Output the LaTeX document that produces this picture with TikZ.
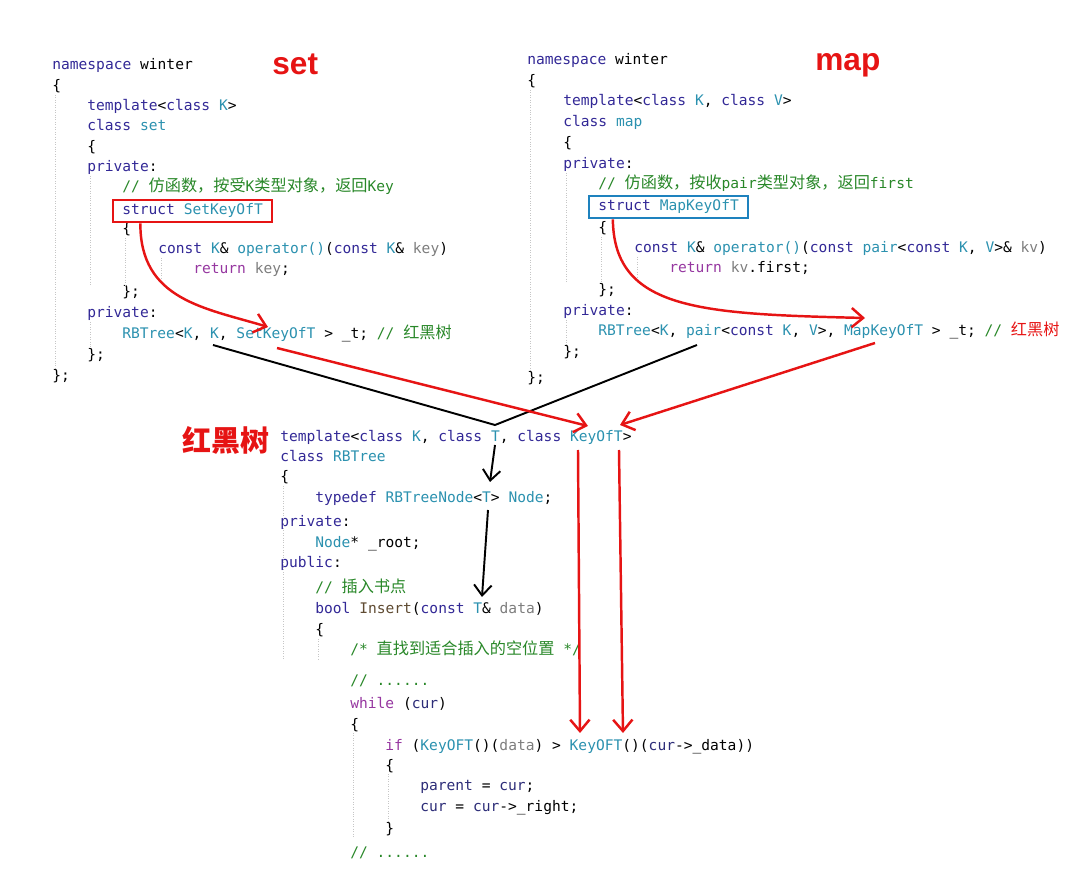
\documentclass[tikz,border=0pt]{standalone}
\usepackage{fontspec}
\usepackage{xcolor}
\setmonofont{DejaVu Sans Mono}
\newfontfamily\cjk{Noto Sans CJK SC}
\newfontfamily\labelfont{Liberation Sans}
\usetikzlibrary{arrows.meta, fit, positioning}

\definecolor{kwblue}{RGB}{50,40,150}
\definecolor{tyteal}{RGB}{43,145,175}
\definecolor{cmgreen}{RGB}{40,135,40}
\definecolor{ctpurple}{RGB}{150,55,160}
\definecolor{prmgray}{RGB}{125,125,125}
\definecolor{varnavy}{RGB}{45,45,120}
\definecolor{fncbrown}{RGB}{95,75,50}
\definecolor{labelred}{RGB}{230,20,20}
\definecolor{boxblue}{RGB}{30,130,190}

\newcommand{\kw}[1]{\textcolor{kwblue}{#1}}
\newcommand{\tyn}[1]{\textcolor{tyteal}{#1}}
\newcommand{\cmt}[1]{\textcolor{cmgreen}{#1}}
\newcommand{\ctl}[1]{\textcolor{ctpurple}{#1}}
\newcommand{\prm}[1]{\textcolor{prmgray}{#1}}
\newcommand{\vname}[1]{\textcolor{varnavy}{#1}}
\newcommand{\fnc}[1]{\textcolor{fncbrown}{#1}}
\newcommand{\zh}[1]{{\cjk\fontsize{9.2}{10}\selectfont #1}}

\tikzset{
    code/.style={anchor=base west, inner sep=0pt, text height=6.5pt, text depth=2pt,
        font=\ttfamily\fontsize{8.3}{10}\selectfont}, % one line of source
    title/.style={anchor=base west, inner sep=0pt, text=labelred,
        font=\labelfont\bfseries\fontsize{18}{20}\selectfont},
    setbox/.style={draw=labelred, line width=1.1pt, inner xsep=5pt, inner ysep=2pt},
    mapbox/.style={draw=boxblue, line width=1.1pt, inner xsep=5pt, inner ysep=2pt},
    guide/.style={draw=gray!45, densely dotted, thin},
    redarrow/.style={draw=labelred, line width=1.4pt, -{Straight Barb[length=6.5pt,width=11pt]}},
    blackarrow/.style={draw=black, line width=1.1pt, -{Straight Barb[length=6pt,width=10pt]}},
}
\tikzstyle{blackline} = [draw=black, line width=1.1pt]

\begin{document}
\begin{tikzpicture}[x=0.02cm, y=-0.02cm]
    \useasboundingbox (0,0) rectangle (1080,885);

    % set
    \node[title] (settitle) at (272,75) {set};
    \node[code] (s1) at (52,70) {\kw{namespace} winter};
    \node[code] (s2) at (52,91) {\{};
    \node[code] (s3) at (87,111) {\kw{template}<\kw{class} \tyn{K}>};
    \node[code] (s4) at (87,131) {\kw{class} \tyn{set}};
    \node[code] (s5) at (87,152) {\{};
    \node[code] (s6) at (87,172) {\kw{private}:};
    \node[code] (s7) at (122,192) {\cmt{// \zh{仿函数，按受}K\zh{类型对象，返回}Key}};
    \node[code] (s8) at (122,215) {\kw{struct} \tyn{SetKeyOfT}};
    \node[code] (s9) at (122,234) {\{};
    \node[code] (s10) at (158,254) {\kw{const} \tyn{K}\& \tyn{operator()}(\kw{const} \tyn{K}\& \prm{key})};
    \node[code] (s11) at (193,274) {\ctl{return} \prm{key};};
    \node[code] (s12) at (122,297) {\};};
    \node[code] (s13) at (87,318) {\kw{private}:};
    \node[code] (s14) at (122,339) {\tyn{RBTree}<\tyn{K}, \tyn{K}, \tyn{SetKeyOfT} > \_t; \cmt{// \zh{红黑树}}};
    \node[code] (s15) at (87,360) {\};};
    \node[code] (s16) at (52,381) {\};};
    \node[setbox, fit=(s8)] (setkey) {};

    % map
    \node[title] (maptitle) at (815,71) {map};
    \node[code] (m1) at (527,65) {\kw{namespace} winter};
    \node[code] (m2) at (527,86) {\{};
    \node[code] (m3) at (563,106) {\kw{template}<\kw{class} \tyn{K}, \kw{class} \tyn{V}>};
    \node[code] (m4) at (563,127) {\kw{class} \tyn{map}};
    \node[code] (m5) at (563,148) {\{};
    \node[code] (m6) at (563,169) {\kw{private}:};
    \node[code] (m7) at (598,189) {\cmt{// \zh{仿函数，按收}pair\zh{类型对象，返回}first}};
    \node[code] (m8) at (598,211) {\kw{struct} \tyn{MapKeyOfT}};
    \node[code] (m9) at (598,233) {\{};
    \node[code] (m10) at (634,253) {\kw{const} \tyn{K}\& \tyn{operator()}(\kw{const} \tyn{pair}<\kw{const} \tyn{K}, \tyn{V}>\& \prm{kv})};
    \node[code] (m11) at (669,273) {\ctl{return} \prm{kv}.first;};
    \node[code] (m12) at (598,295) {\};};
    \node[code] (m13) at (563,316) {\kw{private}:};
    \node[code] (m14) at (598,336) {\tyn{RBTree}<\tyn{K}, \tyn{pair}<\kw{const} \tyn{K}, \tyn{V}>, \tyn{MapKeyOfT} > \_t; \cmt{//} \textcolor{labelred}{\zh{红黑树}}};
    \node[code] (m15) at (563,357) {\};};
    \node[code] (m16) at (527,383) {\};};
    \node[mapbox, fit=(m8)] (mapkey) {};

    % red-black tree
    \node[title, anchor=center, font=\cjk\bfseries\fontsize{16.5}{18}\selectfont] (rbtitle) at (226,440) {红黑树};
    \node[code] (r1) at (280,442) {\kw{template}<\kw{class} \tyn{K}, \kw{class} \tyn{T}, \kw{class} \tyn{KeyOfT}>};
    \node[code] (r2) at (280,462) {\kw{class} \tyn{RBTree}};
    \node[code] (r3) at (280,482) {\{};
    \node[code] (r4) at (315,503) {\kw{typedef} \tyn{RBTreeNode}<\tyn{T}> \tyn{Node};};
    \node[code] (r5) at (280,527) {\kw{private}:};
    \node[code] (r6) at (315,548) {\tyn{Node}* \_root;};
    \node[code] (r7) at (280,568) {\kw{public}:};
    \node[code] (r8) at (315,593) {\cmt{// \zh{插入书点}}};
    \node[code] (r9) at (315,614) {\kw{bool} \fnc{Insert}(\kw{const} \tyn{T}\& \prm{data})};
    \node[code] (r10) at (315,635) {\{};
    \node[code] (r11) at (350,655) {\cmt{/* \zh{直找到适合插入的空位置} */}};
    \node[code] (r12) at (350,685) {\cmt{// ......}};
    \node[code] (r13) at (350,708) {\ctl{while} (\vname{cur})};
    \node[code] (r14) at (350,729) {\{};
    \node[code] (r15) at (385,750) {\ctl{if} (\tyn{KeyOFT}()(\prm{data}) > \tyn{KeyOFT}()(\vname{cur}->\_data))};
    \node[code] (r16) at (385,770) {\{};
    \node[code] (r17) at (420,790) {\vname{parent} = \vname{cur};};
    \node[code] (r18) at (420,811) {\vname{cur} = \vname{cur}->\_right;};
    \node[code] (r19) at (385,833) {\}};
    \node[code] (r20) at (350,857) {\cmt{// ......}};

    % indent guides
    \draw[guide] ([xshift=2pt]s2.south west) -- ([xshift=2pt]s2.south west |- s16.north);
    \draw[guide] ([xshift=2pt]s6.south west) -- ([xshift=2pt]s6.south west |- s12.north);
    \draw[guide] ([xshift=2pt]s13.south west) -- ([xshift=2pt]s13.south west |- s15.north);
    \draw[guide] ([xshift=2pt]s9.south west) -- ([xshift=2pt]s9.south west |- s12.north);
    \draw[guide] ([xshift=2pt]s10.south west) -- ([xshift=2pt]s10.south west |- s11.south);
    \draw[guide] ([xshift=2pt]m2.south west) -- ([xshift=2pt]m2.south west |- m16.north);
    \draw[guide] ([xshift=2pt]m6.south west) -- ([xshift=2pt]m6.south west |- m12.north);
    \draw[guide] ([xshift=2pt]m13.south west) -- ([xshift=2pt]m13.south west |- m15.north);
    \draw[guide] ([xshift=2pt]m9.south west) -- ([xshift=2pt]m9.south west |- m12.north);
    \draw[guide] ([xshift=2pt]m10.south west) -- ([xshift=2pt]m10.south west |- m11.south);
    \draw[guide] ([xshift=2pt]r3.south west) -- ([xshift=2pt]r3.south west |- r11.south);
    \draw[guide] ([xshift=2pt]r10.south west) -- ([xshift=2pt]r10.south west |- r11.south);
    \draw[guide] ([xshift=2pt]r14.south west) -- ([xshift=2pt]r14.south west |- r19.south);
    \draw[guide] ([xshift=2pt]r16.south west) -- ([xshift=2pt]r16.south west |- r19.north);

    % arrow ends
    \coordinate (setTip) at (268,327);
    \coordinate (mapTip) at (865,318);
    \coordinate (setK) at (213,345);
    \coordinate (setFn) at (277,348);
    \coordinate (mapPair) at (697,345);
    \coordinate (mapFn) at (875,343);
    \coordinate (tT) at (495,425);
    \coordinate (keyA) at (588,426);
    \coordinate (keyB) at (620,425);
    \coordinate (keyA0) at (578,450);
    \coordinate (keyB0) at (619,450);
    \coordinate (cmpA) at (580,733);
    \coordinate (cmpB) at (623,733);
    \coordinate (tT0) at (495,445);
    \coordinate (nodeT) at (490,482);
    \coordinate (nodeT0) at (488,510);
    \coordinate (insT) at (482,597);

    % arrows
    \draw[redarrow] ([xshift=16pt]setkey.south west) .. controls (140,300) and (205,308) .. (setTip);
    \draw[redarrow] ([xshift=14pt]mapkey.south west) .. controls (614,310) and (700,314) .. (mapTip);
    \draw[blackline] (setK) -- (tT) -- (mapPair);
    \draw[redarrow] (setFn) -- (keyA);
    \draw[redarrow] (mapFn) -- (keyB);
    \draw[redarrow] (keyA0) -- (cmpA);
    \draw[redarrow] (keyB0) -- (cmpB);
    \draw[blackarrow] (tT0) -- (nodeT);
    \draw[blackarrow] (nodeT0) -- (insT);
\end{tikzpicture}
\end{document}
